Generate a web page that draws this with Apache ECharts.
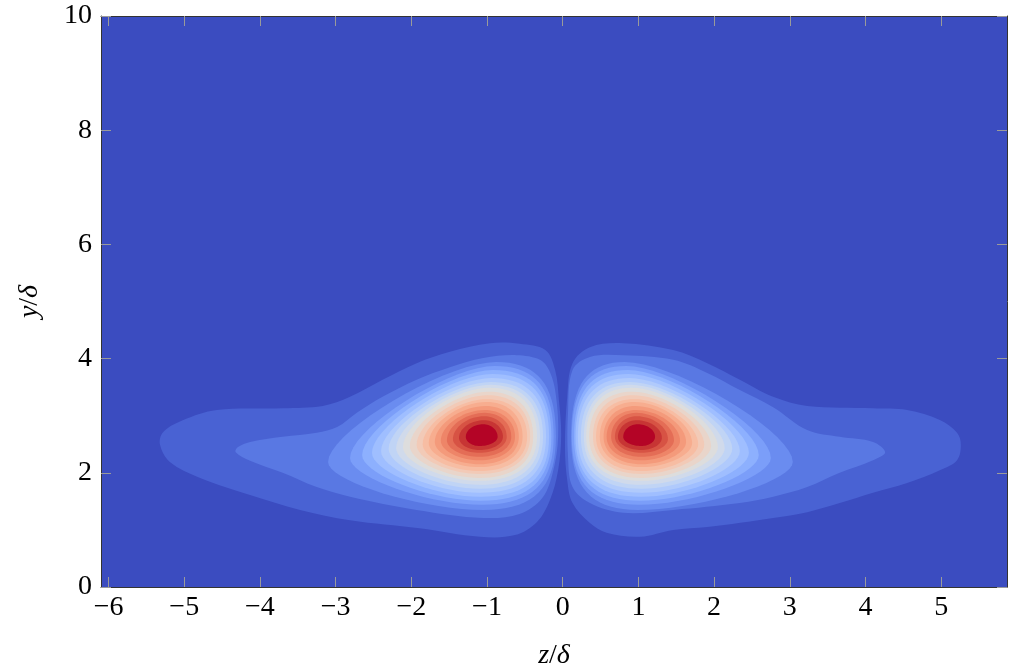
<!DOCTYPE html>
<html>
<head>
<meta charset="utf-8">
<script src="https://cdn.jsdelivr.net/npm/echarts@6/dist/echarts.min.js"></script>
<style>
  html, body { margin: 0; padding: 0; background: #ffffff; }
  #chart { width: 1009px; height: 671px; }
</style>
</head>
<body>
<div id="chart"></div>
<script>
// ---- axes -------------------------------------------------------------
const xTicks = [-6, -5, -4, -3, -2, -1, 0, 1, 2, 3, 4, 5];
const yTicks = [0, 2, 4, 6, 8, 10];
const xRange = [-6.1, 5.87];
const yRange = [0, 10];

// number of filled contour levels above the background level
const levelCount = 20;

// ---- outer contour levels (long side tails), vertices [z/δ, y/δ] --------
const leftLevel1 = [
  [-0.23, 4.15], [-0.57, 4.26], [-0.96, 4.27], [-1.49, 4.12], [-1.93, 3.92],
  [-2.38, 3.63], [-2.81, 3.33], [-3.17, 3.17], [-3.70, 3.13], [-4.57, 3.10],
  [-5.02, 2.92], [-5.28, 2.71], [-5.32, 2.49], [-5.19, 2.19], [-4.79, 1.91],
  [-4.13, 1.61], [-3.47, 1.35], [-2.81, 1.17], [-1.89, 1.03], [-1.09, 0.88],
  [-0.63, 0.91], [-0.34, 1.14], [-0.17, 1.52], [-0.06, 2.05], [-0.02, 2.66],
  [-0.05, 3.27], [-0.10, 3.80]
];
const leftLevel2 = [
  [-0.30, 3.98], [-0.61, 4.06], [-1.05, 4.01], [-1.49, 3.85], [-1.93, 3.63],
  [-2.38, 3.33], [-2.72, 3.05], [-2.98, 2.80], [-3.25, 2.70], [-3.70, 2.63],
  [-4.13, 2.54], [-4.29, 2.45], [-4.32, 2.36], [-4.13, 2.21], [-3.70, 2.00],
  [-3.25, 1.75], [-2.81, 1.58], [-1.93, 1.35], [-1.05, 1.21], [-0.57, 1.28],
  [-0.27, 1.56], [-0.13, 2.01], [-0.06, 2.63], [-0.09, 3.36], [-0.17, 3.77]
];
const rightLevel1 = [
  [0.13, 3.92], [0.36, 4.20], [0.80, 4.27], [1.46, 4.15], [1.91, 3.92],
  [2.34, 3.63], [2.78, 3.33], [3.23, 3.17], [4.10, 3.13], [4.55, 3.10],
  [4.99, 2.92], [5.21, 2.70], [5.26, 2.49], [5.21, 2.22], [4.99, 2.05],
  [4.55, 1.82], [4.10, 1.65], [3.66, 1.47], [3.23, 1.31], [2.78, 1.21],
  [1.91, 1.05], [1.46, 1.00], [1.02, 0.88], [0.58, 0.95], [0.36, 1.12],
  [0.13, 1.47], [0.06, 1.87], [0.03, 2.45], [0.06, 3.33]
];
const rightLevel2 = [
  [0.13, 3.80], [0.36, 4.03], [0.80, 4.06], [1.46, 3.98], [1.91, 3.75],
  [2.34, 3.45], [2.78, 3.15], [3.23, 2.75], [3.66, 2.63], [4.10, 2.54],
  [4.26, 2.36], [4.10, 2.22], [3.66, 2.00], [3.23, 1.75], [2.78, 1.58],
  [2.34, 1.47], [1.46, 1.35], [0.80, 1.30], [0.36, 1.47], [0.13, 1.75],
  [0.07, 2.28], [0.07, 3.05]
];

// ---- inner contour levels 3..20 ------------------------------------------
// extreme points of each closed contour:
// [zWest, yWest, zTop, yTop, zEast, yEast, zBottom, yBottom]
const leftLevels = [
  [-3.10, 2.19, -0.88, 3.94, -0.09, 2.63, -1.05, 1.35],
  [-2.81, 2.26, -0.90, 3.87, -0.12, 2.63, -1.07, 1.44],
  [-2.65, 2.31, -0.92, 3.80, -0.15, 2.63, -1.08, 1.51],
  [-2.52, 2.35, -0.93, 3.73, -0.18, 2.63, -1.09, 1.58],
  [-2.40, 2.38, -0.94, 3.66, -0.22, 2.63, -1.10, 1.65],
  [-2.30, 2.42, -0.95, 3.59, -0.26, 2.63, -1.10, 1.72],
  [-2.20, 2.43, -0.96, 3.54, -0.30, 2.63, -1.10, 1.79],
  [-2.11, 2.45, -0.97, 3.49, -0.34, 2.63, -1.10, 1.86],
  [-2.02, 2.47, -0.98, 3.42, -0.39, 2.63, -1.10, 1.91],
  [-1.93, 2.49, -0.99, 3.36, -0.43, 2.63, -1.10, 1.98],
  [-1.85, 2.50, -1.00, 3.29, -0.47, 2.63, -1.10, 2.03],
  [-1.77, 2.52, -1.01, 3.24, -0.53, 2.63, -1.10, 2.10],
  [-1.69, 2.54, -1.02, 3.17, -0.58, 2.63, -1.10, 2.15],
  [-1.61, 2.56, -1.03, 3.10, -0.63, 2.63, -1.10, 2.22],
  [-1.53, 2.57, -1.03, 3.05, -0.68, 2.63, -1.10, 2.28],
  [-1.45, 2.59, -1.04, 2.99, -0.74, 2.63, -1.10, 2.35],
  [-1.37, 2.61, -1.04, 2.92, -0.79, 2.63, -1.10, 2.40],
  [-1.28, 2.63, -1.05, 2.85, -0.86, 2.63, -1.10, 2.47]
];
const rightLevels = [
  [0.11, 2.63, 0.82, 3.94, 3.04, 2.19, 0.99, 1.35],
  [0.12, 2.63, 0.84, 3.87, 2.75, 2.26, 1.01, 1.44],
  [0.15, 2.63, 0.86, 3.80, 2.59, 2.31, 1.02, 1.51],
  [0.17, 2.63, 0.87, 3.73, 2.46, 2.35, 1.03, 1.58],
  [0.20, 2.63, 0.88, 3.66, 2.34, 2.38, 1.04, 1.65],
  [0.24, 2.63, 0.89, 3.59, 2.24, 2.42, 1.04, 1.72],
  [0.28, 2.63, 0.90, 3.54, 2.14, 2.43, 1.04, 1.79],
  [0.31, 2.63, 0.91, 3.49, 2.05, 2.45, 1.04, 1.86],
  [0.35, 2.63, 0.92, 3.42, 1.96, 2.47, 1.04, 1.91],
  [0.40, 2.63, 0.93, 3.36, 1.87, 2.49, 1.04, 1.98],
  [0.44, 2.63, 0.94, 3.29, 1.79, 2.50, 1.04, 2.03],
  [0.49, 2.63, 0.95, 3.24, 1.71, 2.52, 1.04, 2.10],
  [0.54, 2.63, 0.96, 3.17, 1.63, 2.54, 1.04, 2.15],
  [0.58, 2.63, 0.97, 3.10, 1.55, 2.56, 1.04, 2.22],
  [0.64, 2.63, 0.97, 3.05, 1.47, 2.57, 1.04, 2.28],
  [0.69, 2.63, 0.98, 2.99, 1.39, 2.59, 1.04, 2.35],
  [0.73, 2.63, 0.98, 2.92, 1.31, 2.61, 1.04, 2.40],
  [0.80, 2.63, 0.99, 2.85, 1.22, 2.63, 1.04, 2.47]
];

// ---- colour map (diverging blue -> white -> red) ---------------------------
const coolwarm = [
  [59, 76, 192], [68, 90, 204], [77, 104, 215], [87, 117, 225], [98, 130, 234],
  [108, 142, 241], [119, 154, 247], [130, 165, 251], [141, 176, 254], [152, 185, 255],
  [163, 194, 255], [174, 201, 253], [184, 208, 249], [194, 213, 244], [204, 217, 238],
  [213, 219, 230], [221, 221, 221], [229, 216, 209], [236, 211, 197], [241, 204, 185],
  [245, 196, 173], [247, 187, 160], [247, 177, 148], [247, 166, 135], [244, 154, 123],
  [241, 141, 111], [236, 127, 99], [229, 112, 88], [222, 96, 77], [213, 80, 66],
  [203, 62, 56], [192, 40, 47], [180, 4, 38]
];
function levelColor(level) {
  const t = level / levelCount;
  const pos = t * (coolwarm.length - 1);
  const i = Math.min(Math.floor(pos), coolwarm.length - 2);
  const f = pos - i;
  const a = coolwarm[i], b = coolwarm[i + 1];
  const c = [0, 1, 2].map(j => Math.round(a[j] + (b[j] - a[j]) * f));
  return 'rgb(' + c.join(',') + ')';
}

// ---- contour geometry helpers ---------------------------------------------
const tails = [
  { verts: leftLevel1, level: 1 },
  { verts: rightLevel1, level: 1 },
  { verts: leftLevel2, level: 2 },
  { verts: rightLevel2, level: 2 }
];

const blobs = [];
for (let i = 0; i < leftLevels.length; i++) {
  blobs.push({ row: leftLevels[i], level: i + 3, side: 'left' });
  blobs.push({ row: rightLevels[i], level: i + 3, side: 'right' });
}

function cubicPoint(p0, p1, p2, p3, t) {
  const u = 1 - t;
  const a = u * u * u, b = 3 * u * u * t, c = 3 * u * t * t, d = t * t * t;
  return [a * p0[0] + b * p1[0] + c * p2[0] + d * p3[0],
          a * p0[1] + b * p1[1] + c * p2[1] + d * p3[1]];
}

// closed outline through the four extreme points; k = handle lengths per quadrant
function outline(W, N, E, S, k) {
  const segs = [
    [W, [W[0], W[1] + k[0] * (N[1] - W[1])], [N[0] + k[0] * (W[0] - N[0]), N[1]], N],
    [N, [N[0] + k[1] * (E[0] - N[0]), N[1]], [E[0], E[1] + k[1] * (N[1] - E[1])], E],
    [E, [E[0], E[1] + k[2] * (S[1] - E[1])], [S[0] + k[2] * (E[0] - S[0]), S[1]], S],
    [S, [S[0] + k[3] * (W[0] - S[0]), S[1]], [W[0], W[1] + k[3] * (S[1] - W[1])], W]
  ];
  const pts = [];
  segs.forEach(s => {
    for (let i = 0; i < 18; i++) pts.push(cubicPoint(s[0], s[1], s[2], s[3], i / 18));
  });
  return pts;
}

const serif = 'Liberation Serif, DejaVu Serif, serif';
const minus = v => (v < 0 ? '\u2212' + Math.abs(v) : String(v));

const tickStyle = { show: true, inside: true, length: 10, lineStyle: { color: '#9a9a9a', width: 1 } };
const frameLine = { show: true, onZero: false, lineStyle: { color: '#333333', width: 1 } };

const chart = echarts.init(document.getElementById('chart'));
chart.setOption({
  animation: false,
  grid: {
    left: 101, right: 2, top: 16, bottom: 84,
    outerBoundsMode: 'none',
    show: true, backgroundColor: levelColor(0), borderWidth: 0
  },
  xAxis: [
    {
      type: 'value', min: xRange[0], max: xRange[1], position: 'bottom', z: 10,
      axisLine: frameLine,
      axisTick: Object.assign({ customValues: xTicks }, tickStyle),
      axisLabel: {
        customValues: xTicks, formatter: minus, margin: 7,
        fontFamily: serif, fontSize: 28, color: '#000'
      },
      splitLine: { show: false },
      name: '{i|z}/{i|δ}', nameLocation: 'middle', nameGap: 55,
      nameTextStyle: {
        fontFamily: serif, fontSize: 28, color: '#000',
        rich: { i: { fontFamily: serif, fontSize: 28, fontStyle: 'italic', color: '#000' } }
      }
    },
    {
      type: 'value', min: xRange[0], max: xRange[1], position: 'top', z: 10,
      axisLine: frameLine,
      axisTick: Object.assign({ customValues: xTicks }, tickStyle),
      axisLabel: { show: false },
      splitLine: { show: false }
    }
  ],
  yAxis: [
    {
      type: 'value', min: yRange[0], max: yRange[1], interval: 2, position: 'left', z: 10,
      axisLine: frameLine,
      axisTick: Object.assign({ customValues: yTicks }, tickStyle),
      axisLabel: {
        customValues: yTicks, margin: 9,
        fontFamily: serif, fontSize: 28, color: '#000'
      },
      splitLine: { show: false },
      name: '{i|y}/{i|δ}', nameLocation: 'middle', nameGap: 57,
      nameTextStyle: {
        fontFamily: serif, fontSize: 28, color: '#000',
        rich: { i: { fontFamily: serif, fontSize: 28, fontStyle: 'italic', color: '#000' } }
      }
    },
    {
      type: 'value', min: yRange[0], max: yRange[1], interval: 2, position: 'right', z: 10,
      axisLine: frameLine,
      axisTick: Object.assign({ customValues: yTicks }, tickStyle),
      axisLabel: { show: false },
      splitLine: { show: false }
    }
  ],
  series: [
    {
      // contour levels 1 and 2 with their side tails
      type: 'custom',
      coordinateSystem: 'cartesian2d',
      xAxisIndex: 0, yAxisIndex: 0,
      silent: true,
      data: tails.map(t => t.verts[0]),
      renderItem: function (params, api) {
        const item = tails[params.dataIndex];
        const pts = item.verts.map(p => api.coord(p));
        return {
          type: 'polygon',
          z2: item.level,
          shape: { points: pts, smooth: 0.35 },
          style: { fill: levelColor(item.level), stroke: null }
        };
      }
    },
    {
      // closed contour levels 3..20 around each vortex core
      type: 'custom',
      coordinateSystem: 'cartesian2d',
      xAxisIndex: 0, yAxisIndex: 0,
      silent: true,
      data: blobs.map(b => [b.row[0], b.row[1]]),
      renderItem: function (params, api) {
        const b = blobs[params.dataIndex];
        const r = b.row;
        const W = api.coord([r[0], r[1]]);
        const N = api.coord([r[2], r[3]]);
        const E = api.coord([r[4], r[5]]);
        const S = api.coord([r[6], r[7]]);
        const f = (b.level - 3) / (levelCount - 3);
        const gap = 0.7 - 0.15 * f;      // side facing the centre line
        const upOut = 0.3 + 0.25 * f;    // upper outer flank
        const lowOut = 0.4 + 0.15 * f;   // lower outer flank
        const k = b.side === 'left'
          ? [upOut, gap, gap, lowOut]
          : [gap, upOut, lowOut, gap];
        return {
          type: 'polygon',
          z2: b.level,
          shape: { points: outline(W, N, E, S, k) },
          style: { fill: levelColor(b.level), stroke: null }
        };
      }
    }
  ]
});
</script>
</body>
</html>
